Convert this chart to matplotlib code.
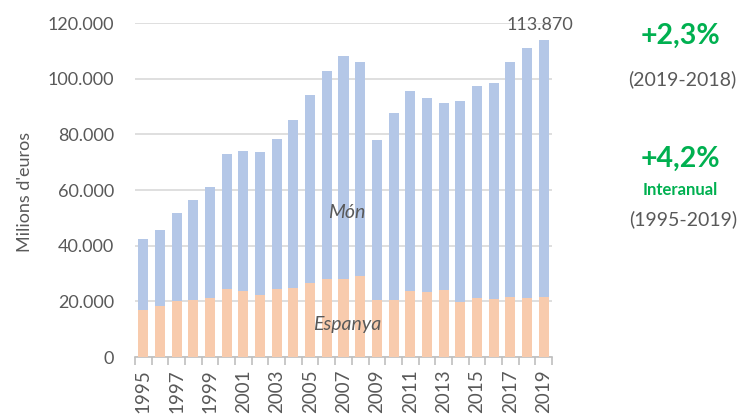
import numpy as np
import matplotlib
matplotlib.use("Agg")
import matplotlib.pyplot as plt
from matplotlib.ticker import FuncFormatter

# ---------------------------------------------------------------------------
# dades (milions d'euros)
# ---------------------------------------------------------------------------
anys = list(range(1995, 2020))
total = [42550, 45660, 51760, 56500, 60970, 72800, 74000, 73700, 78400, 85300,
         94050, 102650, 108100, 106000, 78000, 87600, 95500, 93100, 91200, 92000,
         97300, 98450, 105900, 111000, 113870]
espanya = [16850, 18500, 19950, 20570, 21200, 24300, 23800, 22270, 24550, 24900,
           26700, 28150, 28100, 29130, 20570, 20330, 23800, 23470, 23940, 19860,
           21200, 20940, 21660, 21050, 21400]
mon = [t - e for t, e in zip(total, espanya)]

gris = '#595959'
verd = '#00B050'
blau = '#B4C7E7'
taronja = '#F8CBAD'

plt.rcParams['font.family'] = ['Lato', 'DejaVu Sans']

fig = plt.figure(figsize=(7.37, 4.15), dpi=100)
W, H = 737, 415
ax = fig.add_axes([135 / W, 1 - 357 / H, (552 - 135) / W, (357 - 23) / H])

x = np.arange(len(anys))
ax.bar(x, espanya, width=0.6, color=taronja, zorder=3)
ax.bar(x, mon, width=0.6, bottom=espanya, color=blau, zorder=3)

ax.set_xlim(-0.5, len(anys) - 0.5)
ax.set_ylim(0, 120000)
ax.set_yticks(range(0, 120001, 20000))
ax.yaxis.set_major_formatter(FuncFormatter(lambda v, p: f'{int(v):,}'.replace(',', '.')))
ax.grid(axis='y', color='#D9D9D9', linewidth=1.2, zorder=0)
ax.tick_params(axis='y', length=0, pad=15, labelsize=13, labelcolor=gris)

ax.set_xticks(x[::2])
ax.set_xticklabels([str(a) for a in anys[::2]], rotation=90)
ax.set_xticks(np.arange(-0.5, len(anys)), minor=True)
ax.tick_params(axis='x', which='major', length=0, pad=9, labelsize=13.5, labelcolor=gris)
ax.tick_params(axis='x', which='minor', length=6, color='#BFBFBF', width=1.2)

for s in ['top', 'right', 'left']:
    ax.spines[s].set_visible(False)
ax.spines['bottom'].set_color('#BFBFBF')
ax.spines['bottom'].set_linewidth(1.2)

# etiquetes
ax.text(x[-1] - 0.2, total[-1] + 2500, '113.870', ha='center', va='bottom',
        fontsize=13, color=gris)
ax.text(12.2, 52000, 'Món', ha='center', va='center', fontsize=14,
        style='italic', color=gris)
ax.text(12.2, 11800, 'Espanya', ha='center', va='center', fontsize=14,
        style='italic', color=gris)

fig.text(25 / W, 1 - 192 / H, "Milions d'euros", rotation=90, ha='center',
         va='center', fontsize=13, color=gris)

# indicadors de la dreta
fig.text(680 / W, 1 - 36 / H, '+2,3%', ha='center', va='center', fontsize=20.5,
         fontweight='bold', color=verd)
fig.text(682 / W, 1 - 79 / H, '(2019-2018)', ha='center', va='center',
         fontsize=14, color=gris)
fig.text(680 / W, 1 - 159 / H, '+4,2%', ha='center', va='center', fontsize=20.5,
         fontweight='bold', color=verd)
fig.text(680 / W, 1 - 190 / H, 'Interanual', ha='center', va='center',
         fontsize=12, fontweight='bold', color=verd)
fig.text(683 / W, 1 - 219 / H, '(1995-2019)', ha='center', va='center',
         fontsize=14, color=gris)

fig.savefig('out.png', dpi=100)
